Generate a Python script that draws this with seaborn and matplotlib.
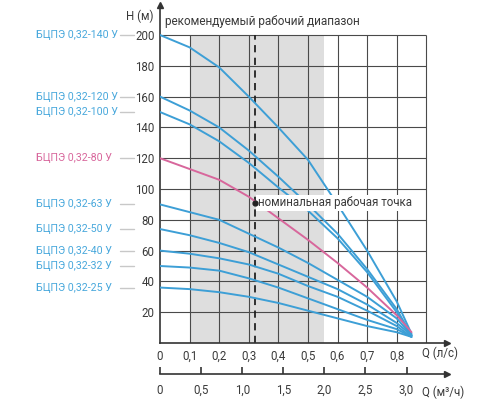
import numpy as np
import pandas as pd
import matplotlib
matplotlib.use("Agg")
import matplotlib.pyplot as plt
import matplotlib.transforms as mtransforms
from matplotlib.lines import Line2D
import seaborn as sns

# ---- data ----
q_ls = [0.0, 0.1, 0.2, 0.3, 0.4, 0.5, 0.6, 0.7, 0.8, 0.85]
models = ["БЦПЭ 0,32-140 У", "БЦПЭ 0,32-120 У", "БЦПЭ 0,32-100 У", "БЦПЭ 0,32-80 У",
          "БЦПЭ 0,32-63 У", "БЦПЭ 0,32-50 У", "БЦПЭ 0,32-40 У", "БЦПЭ 0,32-32 У",
          "БЦПЭ 0,32-25 У"]
h_140 = [200, 192, 179, 160, 140, 119, 90, 60, 27, 6]
h_120 = [160, 151, 140, 125, 108, 90, 71, 48, 22, 5]
h_100 = [150, 142, 131, 117, 101, 86, 68, 46, 20, 5]
h_80 = [120, 113, 106, 95, 81, 67, 52, 36, 18, 7]
h_63 = [90, 85, 80, 71, 62, 52, 41, 30, 16, 5]
h_50 = [74, 70, 65, 59, 51, 43, 35, 25, 13, 5]
h_40 = [60, 58, 55, 51, 45, 37, 30, 21, 11, 4]
h_32 = [50, 49, 47, 42, 36, 29, 22, 15, 9, 4]
h_25 = [36, 35, 33, 30, 26, 21, 16, 11, 7, 4]
heads = [h_140, h_120, h_100, h_80, h_63, h_50, h_40, h_32, h_25]

x_ticks = [0, 0.1, 0.2, 0.3, 0.4, 0.5, 0.6, 0.7, 0.8]
x_grid = [0.1, 0.2, 0.3, 0.4, 0.5, 0.6, 0.7, 0.8, 0.9]
y_ticks = [20, 40, 60, 80, 100, 120, 140, 160, 180, 200]
m3h_ticks = [0, 0.5, 1.0, 1.5, 2.0, 2.5, 3.0]
range_lo, range_hi = 0.1, 0.555
nominal_q, nominal_h = 0.32, 91

BLUE = "#3d9fd6"
BLUE_TXT = "#48a8dc"
PINK = "#d8679c"
TXT = "#3a3a3a"

sns.set_style("white")
plt.rcParams["font.family"] = ["Roboto", "DejaVu Sans"]

rows = []
for m, h in zip(models, heads):
    for q, v in zip(q_ls, h):
        rows.append({"model": m, "Q": q, "H": v})
df = pd.DataFrame(rows)
palette = {m: (PINK if "-80" in m else BLUE) for m in models}

fig = plt.figure(figsize=(5, 4), dpi=100)
ax = fig.add_axes([160 / 500, 57 / 400, 287 / 500, 338 / 400])
ax.set_xlim(0, 0.97)
ax.set_ylim(0, 219.5)

# recommended range shading
ax.fill_between([range_lo, range_hi], 0, 200, color="#dedede", zorder=0, lw=0)
# grid
ax.hlines(y_ticks, 0, 0.9, color="#4a4a4a", lw=0.8, zorder=1)
ax.vlines(x_grid, 0, 200, color="#4a4a4a", lw=0.8, zorder=1)
# nominal line
ax.vlines(nominal_q, 0, 200, color="#222222", lw=1.3, linestyles=(0, (4, 3)), zorder=2)

sns.lineplot(data=df, x="Q", y="H", hue="model", palette=palette, ax=ax,
             legend=False, lw=1.4, zorder=3)
ax.plot([nominal_q], [nominal_h], "o", color="#222222", ms=3.5, zorder=5)
ax.text(nominal_q + 0.01, nominal_h, "номинальная рабочая точка", fontsize=8.3,
        color=TXT, va="center", ha="left", zorder=4,
        bbox=dict(facecolor="white", edgecolor="none", pad=0.8))

# spines & ticks
for s in ["top", "right"]:
    ax.spines[s].set_visible(False)
for s in ["left", "bottom"]:
    ax.spines[s].set_color("#333333")
    ax.spines[s].set_linewidth(1.2)
ax.set_xticks(x_ticks)
ax.set_yticks(y_ticks)
fmt = matplotlib.ticker.FuncFormatter(lambda v, p: ("%g" % v).replace(".", ","))
ax.xaxis.set_major_formatter(fmt)
ax.tick_params(axis="both", length=0, labelsize=8.3, labelcolor=TXT)
ax.tick_params(axis="x", pad=5)
ax.tick_params(axis="y", pad=4)
ax.set_xlabel("")
ax.set_ylabel("")
ax.plot(1, 0, ">", color="#333333", ms=4, transform=ax.transAxes, clip_on=False)
ax.plot(0, 1, "^", color="#333333", ms=4, transform=ax.transAxes, clip_on=False)

# secondary axis m3/h
loc2 = -31 / 338
sec = ax.secondary_xaxis(loc2, functions=(lambda q: np.asarray(q) * 3.6,
                                          lambda m: np.asarray(m) / 3.6))
sec.set_xticks(m3h_ticks)
sec.xaxis.set_major_formatter(matplotlib.ticker.FuncFormatter(
    lambda v, p: ("%.1f" % v).replace(".", ",") if v != 0 else "0"))
sec.tick_params(axis="x", direction="in", length=5, width=1.2, color="#333333",
                labelsize=8.3, labelcolor=TXT, pad=7)
sec.spines["bottom"].set_color("#333333")
sec.spines["bottom"].set_linewidth(1.2)
ax.plot(1, loc2, ">", color="#333333", ms=4, transform=ax.transAxes, clip_on=False)

# axis titles
fig.text(422 / 500, 1 - 353 / 400, "Q (л/с)", fontsize=8.3, color=TXT, va="center", ha="left")
fig.text(422 / 500, 1 - 392 / 400, "Q (м³/ч)", fontsize=8.3, color=TXT, va="center", ha="left")
fig.text(154 / 500, 1 - 16 / 400, "H (м)", fontsize=8.3, color=TXT, va="center", ha="right")
fig.text(165 / 500, 1 - 22 / 400, "рекомендуемый рабочий диапазон", fontsize=8.5,
         color=TXT, va="center", ha="left")

# left labels with leader lines
bt = mtransforms.blended_transform_factory(fig.transFigure, ax.transData)
for m, h in zip(models, heads):
    col = PINK if "-80" in m else BLUE_TXT
    ax.add_line(Line2D([120 / 500, 134 / 500], [h[0], h[0]], transform=bt,
                       color="#c8c8c8", lw=1.0, clip_on=False))
    ax.text(36 / 500, h[0], m, transform=bt, fontsize=7.7, color=col,
            va="center", ha="left", clip_on=False)

fig.savefig("out.png", dpi=100)
